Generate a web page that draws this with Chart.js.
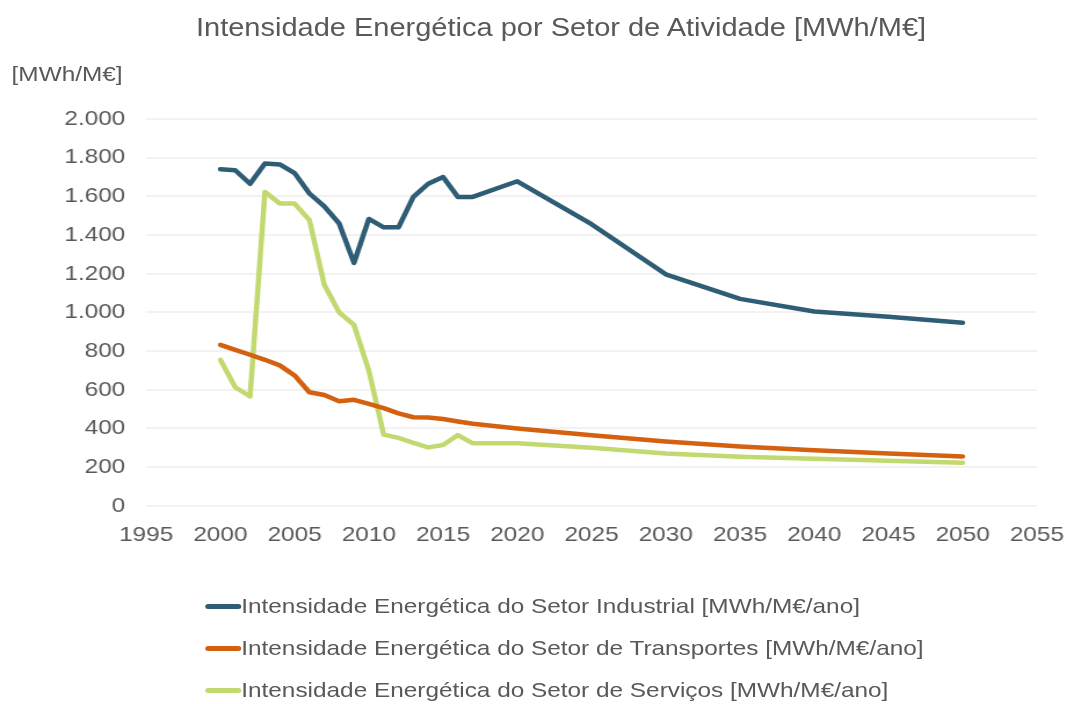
<!DOCTYPE html>
<html>
<head>
<meta charset="utf-8">
<script src="https://cdn.jsdelivr.net/npm/chart.js@4"></script>
<style>
  body { margin: 0; background: #fff; font-family: "Liberation Sans", Arial, sans-serif; overflow: hidden; }
  /* o gráfico original está esticado na horizontal */
  #stage { position: relative; width: 920px; height: 704px; transform: scaleX(1.1598); transform-origin: 0 0; }
  #grafico { position: absolute; left: 0; top: 0; }
  .txt { position: absolute; color: #595959; white-space: nowrap; }
  #titulo { left: 169px; top: 12px; font-size: 25px; line-height: 30px; }
  #unidade { left: 10px; top: 61px; font-size: 21px; line-height: 26px; }
  #legend { left: 177px; top: 585px; font-size: 21px; }
  #legend div { height: 42px; display: flex; align-items: center; }
  #legend span.sw { display: inline-block; width: 31px; height: 5px; border-radius: 3px; }
</style>
</head>
<body>
<div id="stage">
  <canvas id="grafico" width="920" height="704"></canvas>
  <div id="titulo" class="txt">Intensidade Energética por Setor de Atividade [MWh/M€]</div>
  <div id="unidade" class="txt">[MWh/M€]</div>
  <div id="legend" class="txt"></div>
</div>
<script>
// anos com valores
const years = [2000, 2001, 2002, 2003, 2004, 2005, 2006, 2007, 2008, 2009, 2010,
  2011, 2012, 2013, 2014, 2015, 2016, 2017, 2020, 2025, 2030, 2035, 2040, 2045, 2050];

const industrial = [1740, 1735, 1665, 1770, 1765, 1720, 1615, 1548, 1460, 1256, 1483,
  1440, 1440, 1597, 1665, 1700, 1597, 1597, 1678, 1456, 1197, 1070, 1005, 977, 946];

const transportes = [832, 806, 781, 755, 726, 674, 587, 573, 541, 548, 527,
  505, 478, 458, 456, 449, 436, 424, 400, 365, 333, 307, 287, 270, 255];

const servicos = [755, 613, 565, 1623, 1563, 1563, 1477, 1143, 1000, 935, 699,
  368, 351, 325, 302, 314, 366, 323, 323, 300, 270, 254, 243, 233, 223];

const seriesNames = [
  "Intensidade Energética do Setor Industrial [MWh/M€/ano]",
  "Intensidade Energética do Setor de Transportes [MWh/M€/ano]",
  "Intensidade Energética do Setor de Serviços [MWh/M€/ano]"
];
const seriesColors = ["#2f5d75", "#d4610f", "#c1d96f"];

const xTicks = [1995, 2000, 2005, 2010, 2015, 2020, 2025, 2030, 2035, 2040, 2045, 2050, 2055];
const yTicks = ["0", "200", "400", "600", "800", "1.000", "1.200", "1.400", "1.600", "1.800", "2.000"];

const TXT = "#595959";
const FONT = "'Liberation Sans', Arial, sans-serif";

const toPoints = (vals) => years.map((y, i) => ({ x: y, y: vals[i] }));

const datasets = [industrial, transportes, servicos].map((vals, i) => ({
  label: seriesNames[i],
  data: toPoints(vals),
  borderColor: seriesColors[i],
  backgroundColor: seriesColors[i],
  borderWidth: 4.5,
  pointRadius: 0,
  tension: 0,
  borderCapStyle: "round",
  borderJoinStyle: "round"
}));

const ctx = document.getElementById("grafico").getContext("2d");
const chart = new Chart(ctx, {
  type: "line",
  data: { datasets: datasets },
  options: {
    responsive: false,
    animation: false,
    layout: { padding: { left: 0, right: 26, top: 119, bottom: 139 } },
    plugins: {
      legend: { display: false },
      tooltip: { enabled: false }
    },
    scales: {
      x: {
        type: "linear",
        min: 1995,
        max: 2055,
        afterBuildTicks: (axis) => { axis.ticks = xTicks.map((v) => ({ value: v })); },
        afterFit: (axis) => { axis.paddingLeft = 0; axis.paddingRight = 0; },
        ticks: {
          color: TXT,
          font: { family: FONT, size: 21 },
          padding: 17,
          maxRotation: 0,
          callback: (v) => String(v)
        },
        grid: { display: false, drawTicks: false },
        border: { display: false }
      },
      y: {
        min: 0,
        max: 2000,
        afterFit: (axis) => { axis.width = 126; },
        ticks: {
          stepSize: 200,
          color: TXT,
          font: { family: FONT, size: 21 },
          padding: 18,
          callback: (v) => yTicks[Math.round(v / 200)]
        },
        grid: { color: "#f2f2f2", lineWidth: 2, drawTicks: false },
        border: { display: false }
      }
    }
  }
});

// legenda em HTML, alinhada à esquerda
const legend = document.getElementById("legend");
chart.data.datasets.forEach((ds) => {
  const row = document.createElement("div");
  const sw = document.createElement("span");
  sw.className = "sw";
  sw.style.background = ds.borderColor;
  const txt = document.createElement("span");
  txt.textContent = ds.label;
  row.appendChild(sw);
  row.appendChild(txt);
  legend.appendChild(row);
});
</script>
</body>
</html>
